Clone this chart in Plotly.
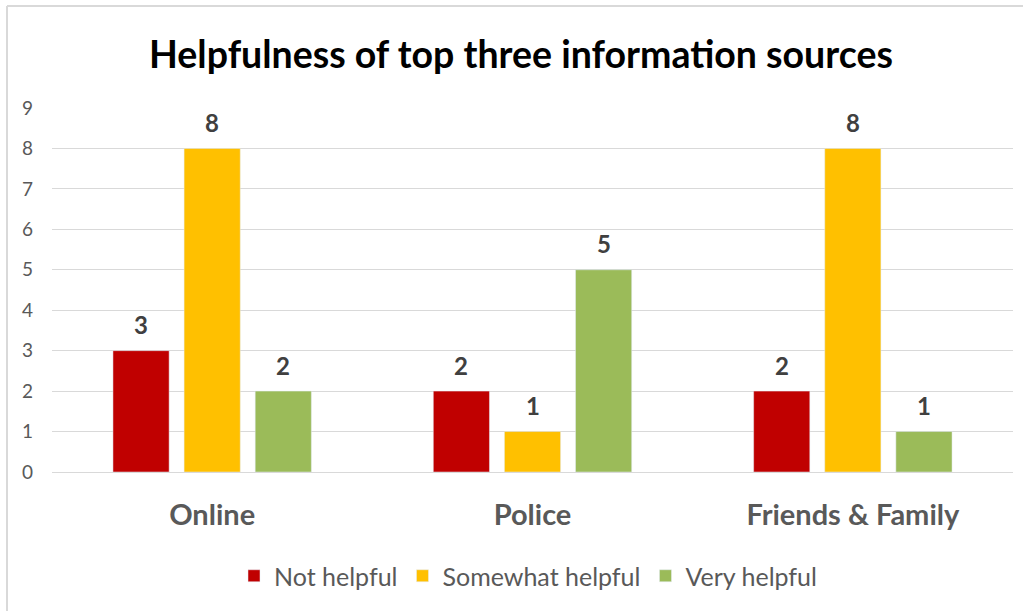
import plotly.graph_objects as go

categories = ["Online", "Police", "Friends & Family"]
not_helpful = [3, 2, 2]
somewhat_helpful = [8, 1, 8]
very_helpful = [2, 5, 1]
series_names = ["Not helpful", "Somewhat helpful", "Very helpful"]
colors = ["#C00000", "#FFC000", "#9BBB59"]
y_ticks = list(range(0, 10))

L, R, T, B = 52, 10, 108, 139
W, H = 1023, 611
ph = H - T - B
pw = W - L - R
BARGAP, GROUPGAP = 0.334, 0.21
slot = pw / len(categories) * (1 - BARGAP) / len(series_names)

def py(Y):
    return (H - B - Y) / ph

def px(X):
    return (X - L) / pw

fig = go.Figure()
all_vals = [not_helpful, somewhat_helpful, very_helpful]
for i, (name, vals, col) in enumerate(zip(series_names, all_vals, colors)):
    fig.add_trace(go.Bar(x=categories, y=vals, name=name, marker_color=col))
    for c, v in zip(categories, vals):
        fig.add_annotation(x=c, y=v, xref="x", yref="y", text=f"<b>{v}</b>",
                           showarrow=False, yshift=26,
                           xshift=(i - (len(series_names) - 1) / 2) * slot,
                           font=dict(family="Lato", size=24, color="#404040"))

fig.update_layout(
    width=W, height=H,
    margin=dict(l=L, r=R, t=T, b=B),
    paper_bgcolor="white", plot_bgcolor="white",
    barmode="group", bargap=BARGAP, bargroupgap=GROUPGAP,
    title=dict(text="<b>Helpfulness of top three information sources</b>",
               x=px(521), xref="paper", xanchor="center",
               y=1 - 55 / H, yanchor="middle",
               font=dict(family="Lato", size=37.5, color="#000000")),
    showlegend=True,
    legend=dict(orientation="h", x=px(528), xanchor="center", y=py(576), yanchor="middle",
                font=dict(family="Lato", size=25, color="#595959"),
                traceorder="normal"),
    yaxis=dict(range=[0, 9], tickvals=y_ticks, showgrid=True, gridcolor="#D9D9D9",
               gridwidth=1.3, zeroline=True, zerolinecolor="#D9D9D9", zerolinewidth=1.3,
               tickfont=dict(family="Lato", size=19, color="#595959"),
               ticks="", ticklabelstandoff=18, showline=False),
    xaxis=dict(tickfont=dict(family="Lato", size=29, color="#595959", weight="bold"),
               ticks="", ticklabelstandoff=23, showline=False),
    font=dict(family="Lato"),
)

# chart frame (left and top edges visible)
fig.add_shape(type="line", xref="paper", yref="paper",
              x0=px(7), x1=px(1030), y0=py(6), y1=py(6),
              line=dict(color="#D9D9D9", width=2))
fig.add_shape(type="line", xref="paper", yref="paper",
              x0=px(7), x1=px(7), y0=py(6), y1=py(620),
              line=dict(color="#D9D9D9", width=2))

fig.write_html("out.html")
